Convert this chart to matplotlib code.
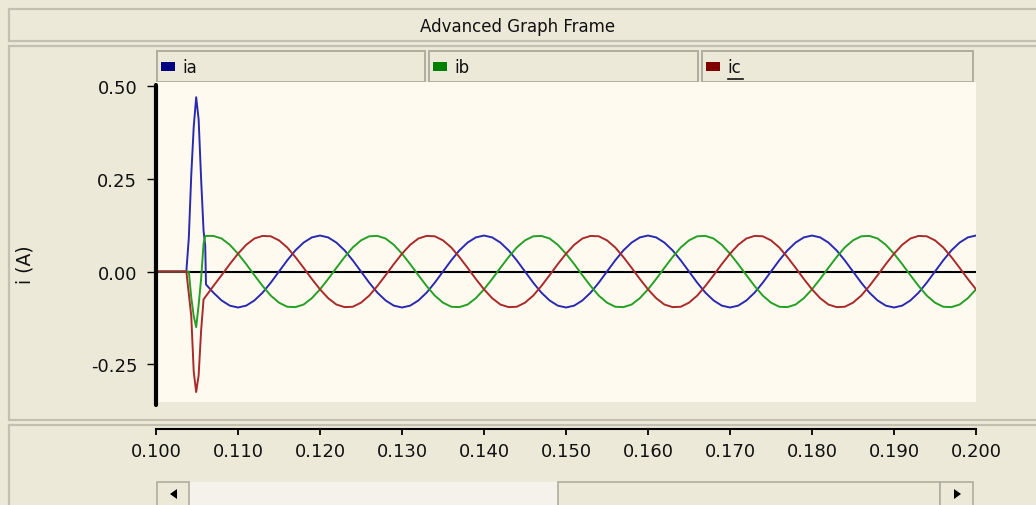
import matplotlib.pyplot as plt
from matplotlib.patches import Rectangle, Polygon
import numpy as np

# time (s): transient samples, then 1 ms samples of the steady state
t_transient = [0.1000, 0.1037, 0.1040, 0.1043, 0.1046, 0.1049, 0.1052, 0.1055, 0.1058, 0.1060, 0.1061]
t_steady = np.round(np.arange(0.107, 0.2005, 0.001), 3)
t = np.concatenate([t_transient, t_steady])

ia = [0.0, 0.0, 0.09, 0.26, 0.39, 0.47, 0.41, 0.25, 0.11, 0.07, -0.035,
      -0.057, -0.078, -0.092, -0.097, -0.092, -0.078, -0.057, -0.030, 0.000, 0.030,
      0.057, 0.078, 0.092, 0.097, 0.092, 0.078, 0.057, 0.030, 0.000, -0.030,
      -0.057, -0.078, -0.092, -0.097, -0.092, -0.078, -0.057, -0.030, 0.000, 0.030,
      0.057, 0.078, 0.092, 0.097, 0.092, 0.078, 0.057, 0.030, 0.000, -0.030,
      -0.057, -0.078, -0.092, -0.097, -0.092, -0.078, -0.057, -0.030, 0.000, 0.030,
      0.057, 0.078, 0.092, 0.097, 0.092, 0.078, 0.057, 0.030, 0.000, -0.030,
      -0.057, -0.078, -0.092, -0.097, -0.092, -0.078, -0.057, -0.030, 0.000, 0.030,
      0.057, 0.078, 0.092, 0.097, 0.092, 0.078, 0.057, 0.030, 0.000, -0.030,
      -0.057, -0.078, -0.092, -0.097, -0.092, -0.078, -0.057, -0.030, 0.000, 0.030,
      0.057, 0.078, 0.092, 0.097]

ib = [0.0, 0.0, 0.0, -0.07, -0.12, -0.15, -0.09, -0.02, 0.075, 0.095, 0.096,
      0.096, 0.089, 0.072, 0.048, 0.020, -0.010, -0.039, -0.065, -0.084, -0.095,
      -0.096, -0.089, -0.072, -0.048, -0.020, 0.010, 0.039, 0.065, 0.084, 0.095,
      0.096, 0.089, 0.072, 0.048, 0.020, -0.010, -0.039, -0.065, -0.084, -0.095,
      -0.096, -0.089, -0.072, -0.048, -0.020, 0.010, 0.039, 0.065, 0.084, 0.095,
      0.096, 0.089, 0.072, 0.048, 0.020, -0.010, -0.039, -0.065, -0.084, -0.095,
      -0.096, -0.089, -0.072, -0.048, -0.020, 0.010, 0.039, 0.065, 0.084, 0.095,
      0.096, 0.089, 0.072, 0.048, 0.020, -0.010, -0.039, -0.065, -0.084, -0.095,
      -0.096, -0.089, -0.072, -0.048, -0.020, 0.010, 0.039, 0.065, 0.084, 0.095,
      0.096, 0.089, 0.072, 0.048, 0.020, -0.010, -0.039, -0.065, -0.084, -0.095,
      -0.096, -0.089, -0.072, -0.048]

ic = [0.0, 0.0, -0.06, -0.12, -0.27, -0.325, -0.28, -0.16, -0.075, -0.069, -0.066,
      -0.039, -0.010, 0.020, 0.048, 0.072, 0.089, 0.096, 0.095, 0.084, 0.065,
      0.039, 0.010, -0.020, -0.048, -0.072, -0.089, -0.096, -0.095, -0.084, -0.065,
      -0.039, -0.010, 0.020, 0.048, 0.072, 0.089, 0.096, 0.095, 0.084, 0.065,
      0.039, 0.010, -0.020, -0.048, -0.072, -0.089, -0.096, -0.095, -0.084, -0.065,
      -0.039, -0.010, 0.020, 0.048, 0.072, 0.089, 0.096, 0.095, 0.084, 0.065,
      0.039, 0.010, -0.020, -0.048, -0.072, -0.089, -0.096, -0.095, -0.084, -0.065,
      -0.039, -0.010, 0.020, 0.048, 0.072, 0.089, 0.096, 0.095, 0.084, 0.065,
      0.039, 0.010, -0.020, -0.048, -0.072, -0.089, -0.096, -0.095, -0.084, -0.065,
      -0.039, -0.010, 0.020, 0.048, 0.072, 0.089, 0.096, 0.095, 0.084, 0.065,
      0.039, 0.010, -0.020, -0.048]

names = ['ia', 'ib', 'ic']
line_colors = ['#2a2ab0', '#25a025', '#a82a2a']
key_colors = ['#000080', '#008000', '#800000']
yticks = [-0.25, 0.00, 0.25, 0.50]
xticks = [0.100, 0.110, 0.120, 0.130, 0.140, 0.150, 0.160, 0.170, 0.180, 0.190, 0.200]

W, H = 1036, 506
bg = '#ECE9D8'
edge = '#c3c0b1'
plt.rcParams['font.family'] = ['DejaVu Sans']

fig = plt.figure(figsize=(W / 100, H / 100), dpi=100, facecolor=bg)

# window chrome in pixel coordinates
ov = fig.add_axes([0, 0, 1, 1], zorder=0)
ov.set_xlim(0, W)
ov.set_ylim(H, 0)
ov.axis('off')

ov.add_patch(Rectangle((9, 10), 1030, 32, fc=bg, ec=edge, lw=1.6))
ov.text(518, 27, 'Advanced Graph Frame', ha='center', va='center', fontsize=12, color='#111111')
ov.add_patch(Rectangle((9, 47), 1030, 374, fc=bg, ec=edge, lw=1.6))
ov.add_patch(Rectangle((9, 426), 1030, 90, fc=bg, ec=edge, lw=1.6))

# legend tabs
tabs = [(157, 268), (429, 269), (702, 271)]
for (x0, w), name, kc in zip(tabs, names, key_colors):
    ov.add_patch(Rectangle((x0, 52), w, 31, fc=bg, ec='#b0ad9f', lw=1.4))
    ov.add_patch(Rectangle((x0 + 4, 63), 14, 9, fc=kc, ec='none'))
    ov.text(x0 + 25, 68, name, ha='left', va='center', fontsize=12, color='#111111')
ov.plot([728, 743], [79.5, 79.5], color='#111111', lw=1.2)

ov.text(25, 265, 'i (A)', rotation=90, ha='center', va='center', fontsize=13.5, color='#111111')

# scroll bar
ov.add_patch(Rectangle((157, 483), 816, 30, fc='#f4f2ea', ec='none'))
ov.add_patch(Rectangle((558, 483), 382, 30, fc=bg, ec='#b0ad9f', lw=1.2))
ov.add_patch(Rectangle((157, 483), 32, 30, fc=bg, ec='#b0ad9f', lw=1.2))
ov.add_patch(Rectangle((940, 483), 33, 30, fc=bg, ec='#b0ad9f', lw=1.2))
ov.add_patch(Polygon([[170, 495], [177, 490], [177, 500]], closed=True, fc='black'))
ov.add_patch(Polygon([[961, 495], [954, 490], [954, 500]], closed=True, fc='black'))

# plot area
ymin, ymax = -0.351, 0.511
ax = fig.add_axes([156 / W, 1 - 402.7 / H, 820 / W, (402.7 - 83) / H], zorder=2)
ax.set_facecolor('#FFFAF0')
ax.set_xlim(0.1, 0.2)
ax.set_ylim(ymin, ymax)
ax.axhline(0, color='black', lw=1.5, zorder=1)
for y, c in zip([ia, ib, ic], line_colors):
    ax.plot(t, y, color=c, lw=1.4, zorder=2)

for s in ['top', 'right', 'bottom']:
    ax.spines[s].set_visible(False)
ax.spines['left'].set_linewidth(3)
ax.spines['left'].set_bounds(-0.36, 0.503)
ax.spines['left'].set_capstyle('round')
ax.set_xticks([])
ax.set_yticks(yticks)
ax.set_yticklabels([f'{v:.2f}' for v in yticks])
ax.tick_params(axis='y', direction='out', length=6.5, width=1, pad=7, labelsize=13,
               colors='black', labelcolor='#111111')

# separate time axis panel
axx = fig.add_axes([156 / W, 1 - 429.5 / H, 820 / W, 0.001], zorder=2)
axx.set_facecolor('none')
axx.set_xlim(0.1, 0.2)
for s in ['top', 'right', 'left']:
    axx.spines[s].set_visible(False)
axx.spines['bottom'].set_linewidth(1.5)
axx.set_yticks([])
axx.set_xticks(xticks)
axx.set_xticklabels([f'{v:.3f}' for v in xticks])
axx.tick_params(axis='x', direction='out', length=4.5, width=1.3, pad=5, labelsize=13,
                labelcolor='#111111')

fig.savefig('out.png', dpi=100, facecolor=bg)
